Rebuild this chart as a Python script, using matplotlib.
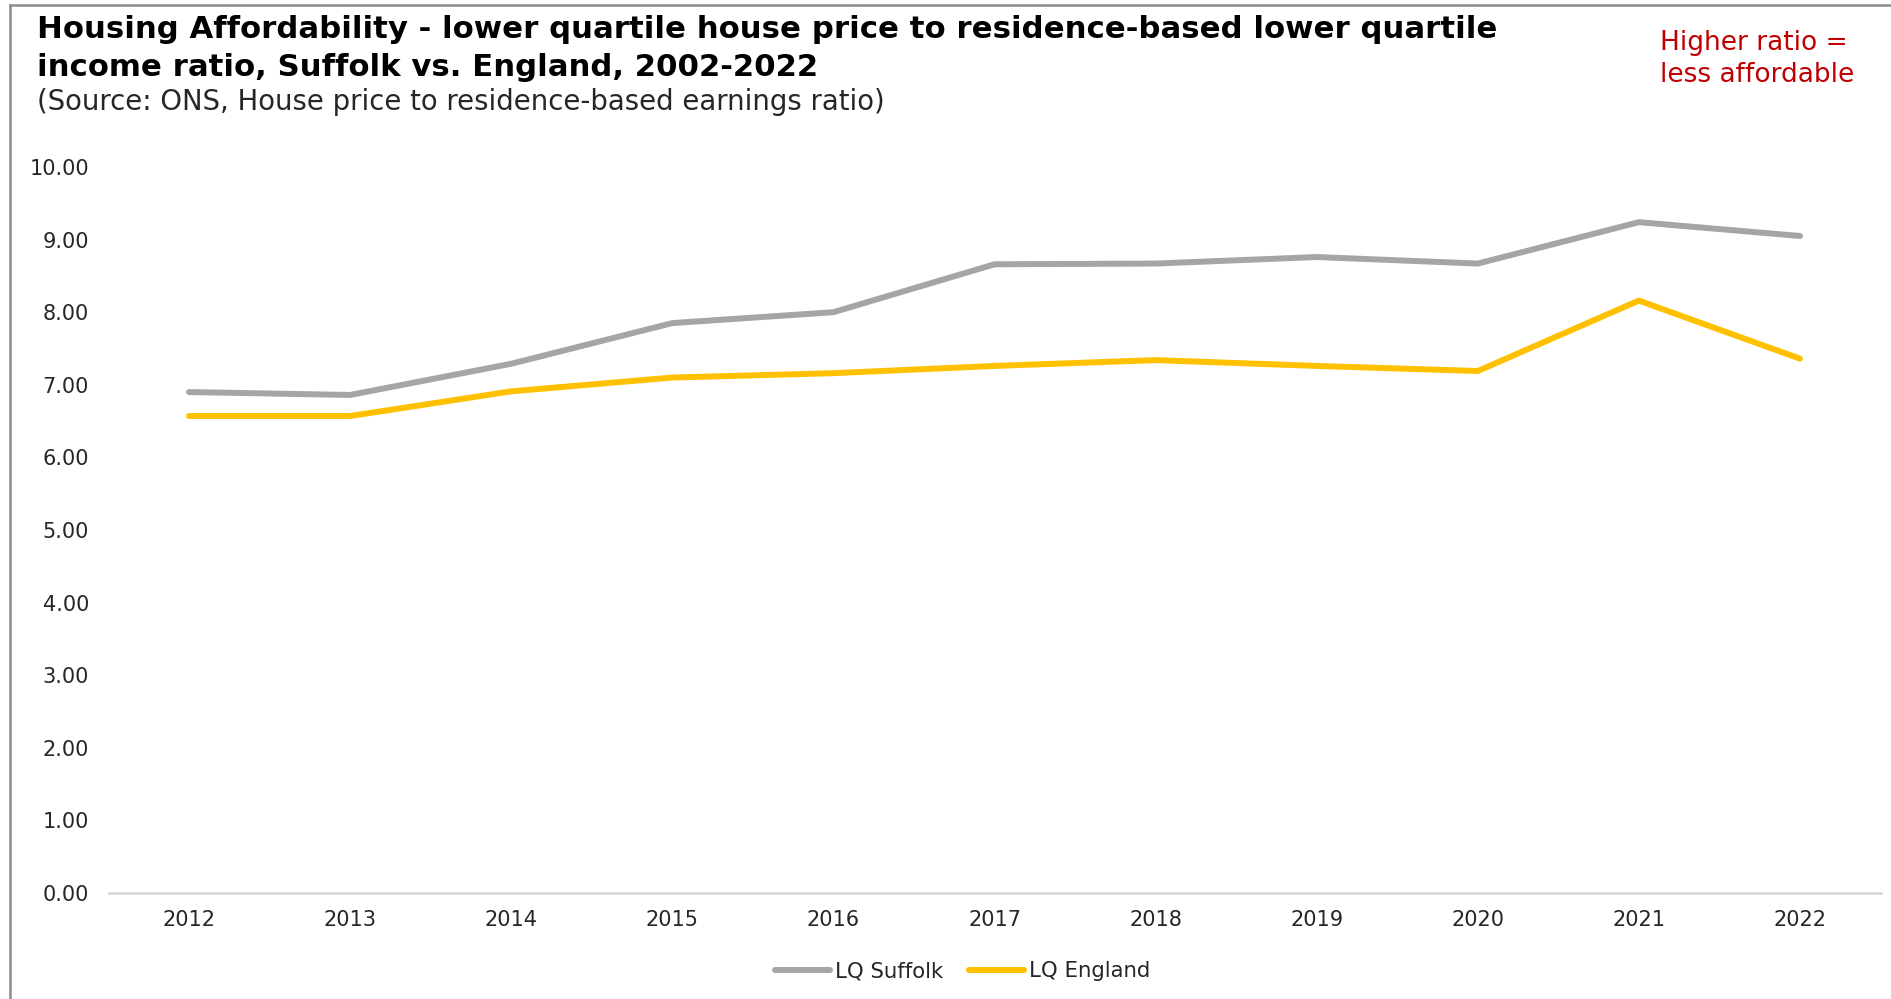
import matplotlib.pyplot as plt
from matplotlib.lines import Line2D

years = ["2012", "2013", "2014", "2015", "2016", "2017", "2018", "2019", "2020", "2021", "2022"]
lq_suffolk = [6.90, 6.86, 7.29, 7.85, 8.00, 8.66, 8.67, 8.76, 8.67, 9.24, 9.05]
lq_england = [6.57, 6.57, 6.91, 7.10, 7.16, 7.26, 7.34, 7.26, 7.19, 8.16, 7.36]
yticks = [0, 1, 2, 3, 4, 5, 6, 7, 8, 9, 10]

plt.rcParams['font.family'] = ['DejaVu Sans']

fig = plt.figure(figsize=(18.91, 9.99), dpi=100)
ax = fig.add_axes([108.5 / 1891, 106 / 999, 1772 / 1891, 726 / 999])

x = list(range(len(years)))
ax.plot(x, lq_suffolk, color="#a5a5a5", lw=4.3, solid_capstyle="round", label="LQ Suffolk")
ax.plot(x, lq_england, color="#ffc000", lw=4.3, solid_capstyle="round", label="LQ England")

ax.set_xlim(-0.5, len(years) - 0.5)
ax.set_ylim(0, 10)
ax.set_xticks(x)
ax.set_xticklabels(years)
ax.set_yticks(yticks)
ax.set_yticklabels([f"{v:.2f}" for v in yticks])
ax.tick_params(axis="both", length=0, labelsize=15, colors="#262626")
ax.tick_params(axis="x", pad=12)
ax.tick_params(axis="y", pad=14)
for s in ["top", "right", "left"]:
    ax.spines[s].set_visible(False)
ax.spines["bottom"].set_color("#d9d9d9")
ax.spines["bottom"].set_linewidth(2)

leg = ax.legend(loc="center", bbox_to_anchor=(0.482, -0.108), bbox_transform=ax.transAxes,
                ncol=2, frameon=False, fontsize=15.3, handlelength=2.6,
                handletextpad=0.25, columnspacing=1.2)
for t in leg.get_texts():
    t.set_color("#262626")

# titles
fig.text(37 / 1891, 1 - 29 / 999,
         "Housing Affordability - lower quartile house price to residence-based lower quartile",
         fontsize=22.15, fontweight="bold", va="center", ha="left")
fig.text(37 / 1891, 1 - 67.5 / 999, "income ratio, Suffolk vs. England, 2002-2022",
         fontsize=22.15, fontweight="bold", va="center", ha="left")
fig.text(37 / 1891, 1 - 102.5 / 999,
         "(Source: ONS, House price to residence-based earnings ratio)",
         fontsize=19.85, va="center", ha="left", color="#262626")
fig.text(1660 / 1891, 1 - 43 / 999, "Higher ratio =", fontsize=19, color="#c00000",
         va="center", ha="left")
fig.text(1660 / 1891, 1 - 75 / 999, "less affordable", fontsize=19, color="#c00000",
         va="center", ha="left")

# outer border (left and top edge of the chart frame)
fig.add_artist(Line2D([10 / 1891, 10 / 1891], [0, 1 - 5 / 999], transform=fig.transFigure,
                      color="#8c8c8c", lw=1.8))
fig.add_artist(Line2D([10 / 1891, 1], [1 - 5 / 999, 1 - 5 / 999], transform=fig.transFigure,
                      color="#8c8c8c", lw=1.8))

fig.savefig("out.png", dpi=100)
